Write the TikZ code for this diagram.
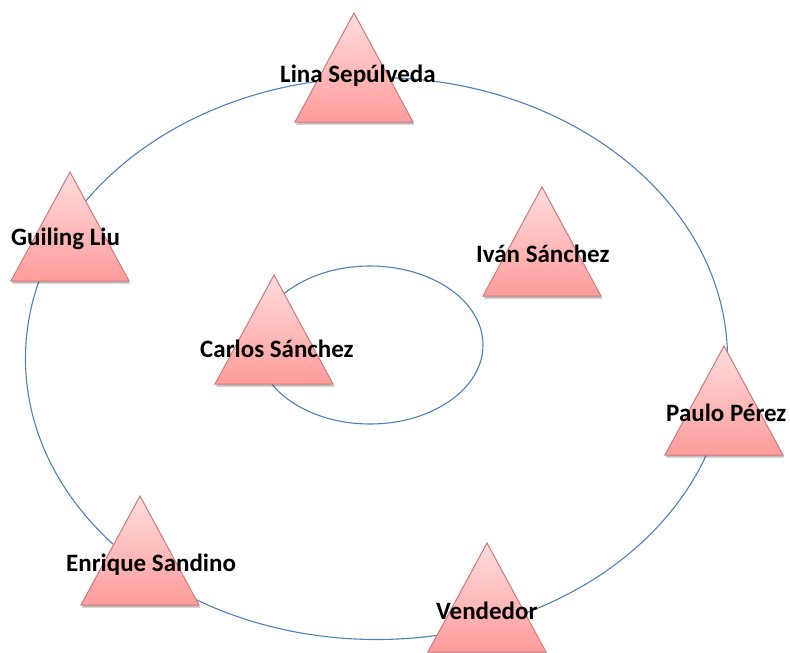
\documentclass[tikz,border=0pt]{standalone}
\usepackage{fontspec}
\setmainfont{Carlito}
\usetikzlibrary{shadows,shapes.geometric}
\definecolor{ringblue}{HTML}{4F81BD}
\definecolor{tritop}{HTML}{FFDCDC}
\definecolor{tribot}{HTML}{FF9C9C}
\definecolor{triedge}{HTML}{D07A7A}
\tikzset{
  ring/.style={draw=ringblue, line width=1.1pt},
  persontri/.style={draw=triedge, line width=1pt, line join=miter,
    top color=tritop, bottom color=tribot,
    drop shadow={shadow xshift=1pt, shadow yshift=-2.5pt, opacity=0.25, fill=black}},
  personname/.style={font=\fontsize{25}{30}\selectfont\bfseries, text=black,
    inner sep=0pt, anchor=base west}
}
\newcommand\drawpersontri[2]{%
  \path[persontri] (#1,#2) -- ++(59,109) -- ++(-118,0) -- cycle;}
\begin{document}
\begin{tikzpicture}[x=1pt,y=-1pt]
\useasboundingbox (0,0) rectangle (790,653);
\clip (0,0) rectangle (790,653);
\fill[white] (0,0) rectangle (790,653);
% rings
\node[ring, ellipse, minimum width=702pt, minimum height=562pt, inner sep=0pt] (outer) at (376.5,358.5) {};
\node[ring, ellipse, minimum width=226pt, minimum height=158pt, inner sep=0pt] (inner) at (370,345) {};
% triangles
\drawpersontri{354}{13}
\drawpersontri{70}{172}
\drawpersontri{542}{187}
\drawpersontri{274}{275}
\drawpersontri{724}{346}
\drawpersontri{140}{496}
\drawpersontri{487}{543}
% names
\node[personname] (lina) at (280,82) {Lina Sepúlveda};
\node[personname] (guiling) at (11,245) {Guiling Liu};
\node[personname] (ivan) at (476,262) {Iván Sánchez};
\node[personname] (carlos) at (200,357) {Carlos Sánchez};
\node[personname] (paulo) at (666,421) {Paulo Pérez};
\node[personname] (enrique) at (66,571) {Enrique Sandino};
\node[personname] (vendedor) at (436,619) {Vendedor};
\end{tikzpicture}
\end{document}
